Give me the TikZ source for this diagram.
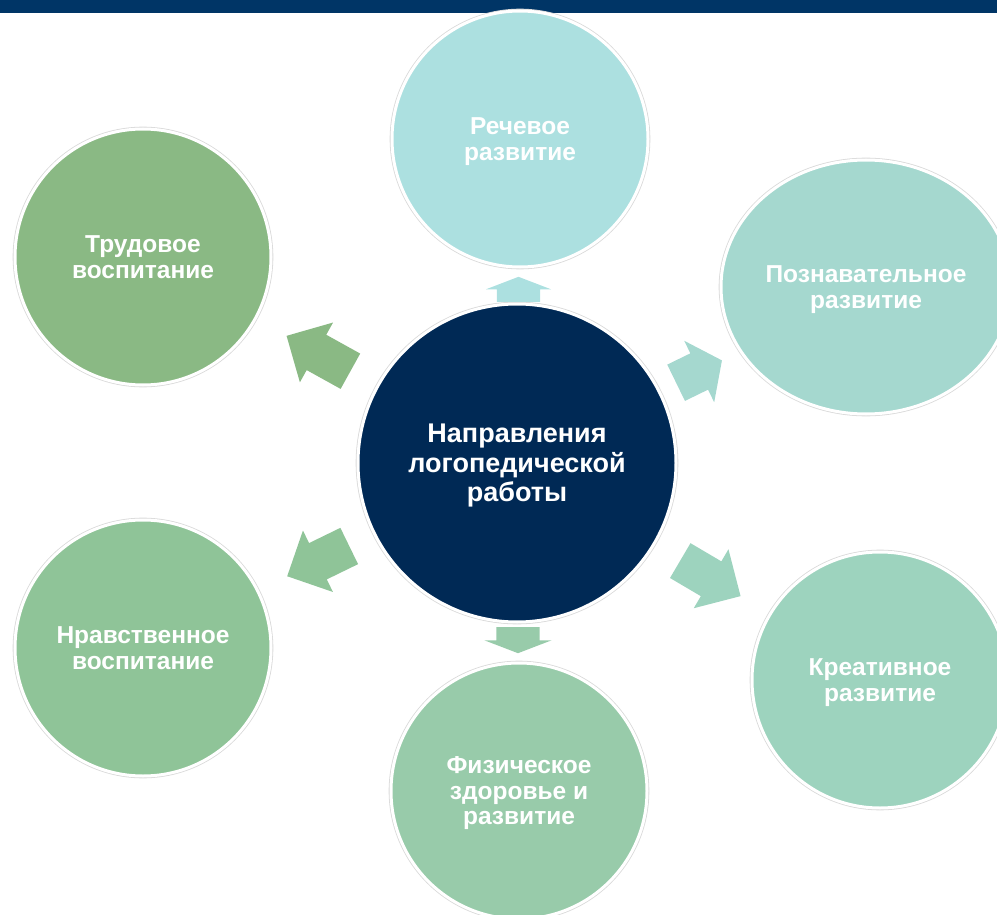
\documentclass[tikz,border=0pt]{standalone}
\usepackage{fontspec}
\setmainfont{Liberation Sans}
\usetikzlibrary{calc,positioning,shapes.geometric,shapes.arrows}

\definecolor{bar}{RGB}{0,53,102}
\definecolor{navy}{RGB}{0,41,85}
\definecolor{c1}{RGB}{172,224,224}
\definecolor{c2}{RGB}{165,216,207}
\definecolor{c3}{RGB}{157,211,190}
\definecolor{c4}{RGB}{152,203,170}
\definecolor{c5}{RGB}{143,196,152}
\definecolor{c6}{RGB}{138,185,132}

\tikzset{
	ring/.style={draw=white,line width=3pt,preaction={draw=black!15,line width=4.6pt},
		text=white,align=center,inner sep=0pt,text depth=-2pt,
		font=\bfseries\fontsize{24.5}{25.5}\selectfont},
	disc/.style={ring,circle,minimum size=#1},
	oval/.style={ring,ellipse,minimum width=290pt,minimum height=254pt},
	blockarrow/.style={single arrow,draw=none,inner xsep=0pt,inner ysep=20pt,anchor=tail,
		single arrow head extend=14pt}
}

\begin{document}
\begin{tikzpicture}[x=1pt,y=-1pt]
	\useasboundingbox (0,0) rectangle (997,915);
	\clip (0,0) rectangle (997,915);
	\fill[bar] (0,0) rectangle (997,13);
	\node(0) [disc=318pt,fill=navy,font=\bfseries\fontsize{27}{29.5}\selectfont] at (517,463) {Направления\\логопедической\\работы};
	\node(1) [disc=256pt,fill=c1] at (520,139) {Речевое\\развитие};
	\node(2) [oval,fill=c2] at (866,287) {Познавательное\\развитие};
	\node(3) [disc=256pt,fill=c3] at (880,680) {Креативное\\развитие};
	\node(4) [disc=256pt,fill=c4] at (519,791) {Физическое\\здоровье и\\развитие};
	\node(5) [disc=256pt,fill=c5] at (143,648) {Нравственное\\воспитание};
	\node(6) [disc=256pt,fill=c6] at (143,257) {Трудовое\\воспитание};
	% arrows
	\node(a1) [blockarrow,fill=c1,rotate=90,minimum height=25pt,inner ysep=21.5pt,
		single arrow head extend=11pt,single arrow tip angle=138] at ($(0)!161pt!(1)$) {};
	\node(a2) [blockarrow,fill=c2,rotate=26,minimum height=51pt,single arrow tip angle=107] at ($(0)!178pt!(2)$) {};
	\node(a3) [blockarrow,fill=c3,rotate=-30.5,minimum height=70pt] at ($(0)!190pt!(3)$) {};
	\node(a4) [blockarrow,fill=c4,rotate=-90,minimum height=26pt,inner ysep=21.5pt,
		single arrow head extend=12pt,single arrow tip angle=138] at ($(0)!164pt!(4)$) {};
	\node(a5) [blockarrow,fill=c5,rotate=206,minimum height=69pt] at ($(0)!187pt!(5)$) {};
	\node(a6) [blockarrow,fill=c6,rotate=151,minimum height=73pt] at ($(0)!190pt!(6)$) {};
\end{tikzpicture}
\end{document}
